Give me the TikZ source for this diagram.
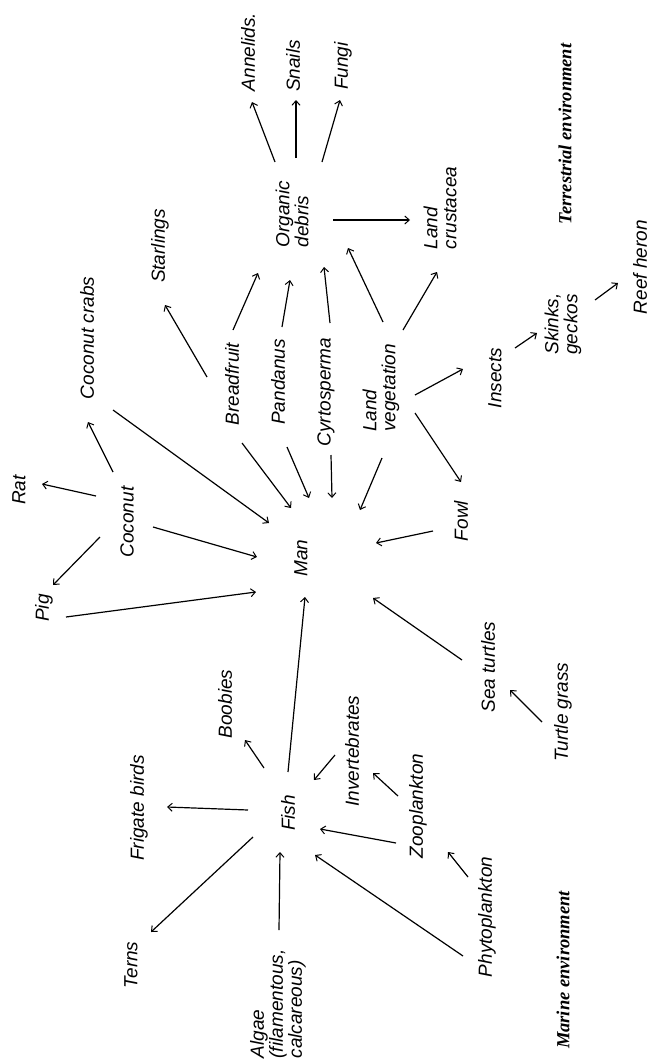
\documentclass[tikz,border=0pt]{standalone}
\usepackage{fontspec}
\setmainfont{Liberation Sans}
\newfontfamily\envfont{Liberation Serif}
\usetikzlibrary{arrows.meta}
\tikzset{
  lbl/.style={rotate=90, inner sep=0pt, font=\fontsize{19}{19}\selectfont\itshape, align=left},
  env/.style={rotate=90, inner sep=0pt, font=\fontsize{18.5}{19}\selectfont\envfont\bfseries\itshape},
  arr/.style={line width=1.2pt, -{Straight Barb[length=4.5pt,width=8pt,line width=1pt]}}
}
\newcommand\conn[4]{\draw[arr] ([shift={(#2)}]#1.center) -- ([shift={(#4)}]#3.center);}
\begin{document}
\begin{tikzpicture}[x=1pt,y=-1pt]
\useasboundingbox[fill=white] (0,0) rectangle (657,1063);
% terrestrial
\node[lbl] (annel) at (248,52) {Annelids.};
\node[lbl] (snails) at (293,66) {Snails};
\node[lbl] (fungi) at (343,66) {Fungi};
\node[lbl] (org) at (292,214) {Organic\\debris};
\node[lbl] (starl) at (160,246) {Starlings};
\node[lbl] (lcrust) at (440,208) {Land\\crustacea};
\node[env] (terr) at (565,134) {Terrestrial environment};
\node[lbl] (heron) at (640,267) {Reef heron};
\node[lbl] (skinks) at (563,324) {Skinks,\\geckos};
\node[lbl] (ccrabs) at (87,338) {Coconut crabs};
\node[lbl] (bread) at (232,384) {Breadfruit};
\node[lbl] (pand) at (278,382) {Pandanus};
\node[lbl] (cyrt) at (326,392) {Cyrtosperma};
\node[lbl] (landveg) at (381,388) {Land\\vegetation};
\node[lbl] (insects) at (495,378) {Insects};
\node[lbl] (rat) at (19,490) {Rat};
\node[lbl] (coconut) at (127,522) {Coconut};
\node[lbl] (pig) at (44,608) {Pig};
\node[lbl] (man) at (301,558) {Man};
\node[lbl] (fowl) at (461,521) {Fowl};
% marine
\node[lbl] (seat) at (488,667) {Sea turtles};
\node[lbl] (tgrass) at (563,712) {Turtle grass};
\node[lbl] (boobies) at (225,704) {Boobies};
\node[lbl] (frig) at (139,808) {Frigate birds};
\node[lbl] (fish) at (288,813) {Fish};
\node[lbl] (invert) at (352,751) {Invertebrates};
\node[lbl] (zoo) at (418,806) {Zooplankton};
\node[lbl] (phyto) at (487,917) {Phytoplankton};
\node[lbl] (terns) at (131,965) {Terns};
\node[lbl] (algae) at (278,1004) {Algae\\(filamentous,\\calcareous)};
\node[env] (marine) at (563,970) {Marine environment};
% connectors
\conn{org}{-17,-52}{annel}{4,50}
\conn{org}{4,-56}{snails}{3,34}
\conn{org}{30,-52}{fungi}{-3,34}
\conn{org}{41,6}{lcrust}{-30,12}
\conn{bread}{1,-54}{org}{-34,59}
\conn{pand}{4,-55}{org}{-2,66}
\conn{cyrt}{4,-69}{org}{32,53}
\conn{landveg}{2,-66}{org}{56,34}
\conn{landveg}{22,-58}{lcrust}{-3,64}
\conn{bread}{-25,-7}{starl}{5,59}
\conn{ccrabs}{26,72}{man}{-32,-35}
\conn{coconut}{-14,-50}{ccrabs}{1,84}
\conn{coconut}{-31,-26}{rat}{23,-6}
\conn{coconut}{-27,15}{pig}{9,-23}
\conn{coconut}{26,5}{man}{-44,-1}
\conn{pig}{22,9}{man}{-45,34}
\conn{bread}{10,59}{man}{-10,-50}
\conn{pand}{9,65}{man}{8,-60}
\conn{cyrt}{5,63}{man}{31,-60}
\conn{landveg}{1,70}{man}{59,-48}
\conn{landveg}{34,7}{insects}{-32,-9}
\conn{landveg}{34,25}{fowl}{0,-39}
\conn{fowl}{-28,10}{man}{75,-15}
\conn{seat}{-26,-7}{man}{72,40}
\conn{tgrass}{-21,10}{seat}{22,23}
\conn{insects}{20,-30}{skinks}{-26,9}
\conn{skinks}{32,-24}{heron}{-22,16}
\conn{fish}{0,-41}{man}{4,39}
\conn{fish}{-24,-45}{boobies}{20,36}
\conn{fish}{-40,-3}{frig}{28,-1}
\conn{fish}{-35,24}{terns}{20,-33}
\conn{algae}{1,-74}{fish}{-8,39}
\conn{invert}{-17,4}{fish}{26,-33}
\conn{zoo}{-22,37}{fish}{32,16}
\conn{phyto}{-24,39}{fish}{27,42}
\conn{zoo}{-20,-10}{invert}{21,22}
\conn{phyto}{-19,-40}{zoo}{30,46}
\end{tikzpicture}
\end{document}
